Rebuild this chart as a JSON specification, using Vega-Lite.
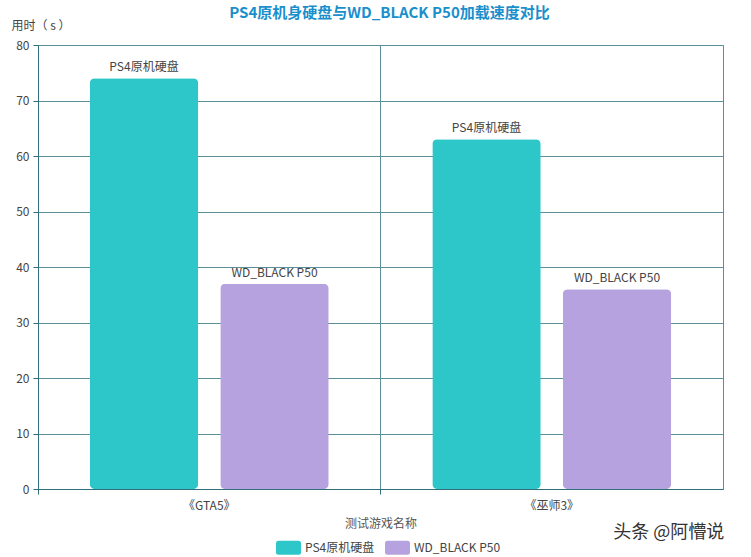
{
  "$schema": "https://vega.github.io/schema/vega-lite/v6.json",
  "width": 685,
  "height": 444,
  "autosize": {"type": "none"},
  "padding": {"left": 38, "top": 45, "right": 28, "bottom": 68},
  "background": "white",
  "config": {
    "font": "Noto Sans CJK SC",
    "view": {"stroke": "#5a8f99", "strokeWidth": 1}
  },
  "title": {
    "text": "PS4原机身硬盘与WD_BLACK P50加载速度对比",
    "color": "#1a8fcc",
    "fontSize": 15,
    "fontWeight": "bold",
    "anchor": "middle",
    "frame": "group",
    "baseline": "bottom",
    "offset": -17,
    "dx": 9
  },
  "data": {
    "values": [
      {"game": "《GTA5》", "disk": "PS4原机硬盘", "time": 74},
      {"game": "《GTA5》", "disk": "WD_BLACK P50", "time": 37},
      {"game": "《巫师3》", "disk": "PS4原机硬盘", "time": 63},
      {"game": "《巫师3》", "disk": "WD_BLACK P50", "time": 36}
    ]
  },
  "encoding": {
    "x": {
      "field": "game",
      "type": "nominal",
      "sort": null,
      "scale": {"paddingInner": 0, "paddingOuter": 0},
      "axis": {
        "title": "测试游戏名称",
        "titleFontSize": 12,
        "titleFontWeight": "normal",
        "titleColor": "#555555",
        "titlePadding": 7,
        "labelAngle": 0,
        "labelFontSize": 12,
        "labelColor": "#444444",
        "labelPadding": 6,
        "bandPosition": 0,
        "grid": true,
        "gridColor": "#5a8f99",
        "domainColor": "#2f6e7b",
        "tickColor": "#2f6e7b",
        "tickSize": 5
      }
    },
    "y": {
      "field": "time",
      "type": "quantitative",
      "scale": {"domain": [0, 80], "nice": false},
      "axis": {
        "title": "用时（ s ）",
        "titleAngle": 0,
        "titleAlign": "left",
        "titleBaseline": "middle",
        "titleX": -27,
        "titleY": -20,
        "titleFontSize": 12,
        "titleFontWeight": "normal",
        "titleColor": "#444444",
        "values": [0, 10, 20, 30, 40, 50, 60, 70, 80],
        "labelFontSize": 12,
        "labelColor": "#444444",
        "labelPadding": 4,
        "gridColor": "#5a8f99",
        "domainColor": "#2f6e7b",
        "tickColor": "#2f6e7b",
        "tickSize": 5
      }
    }
  },
  "layer": [
    {
      "mark": {"type": "bar", "cornerRadius": 5},
      "encoding": {
        "xOffset": {
          "field": "disk",
          "type": "nominal",
          "sort": null,
          "scale": {"paddingInner": 0.169, "paddingOuter": 0.397}
        },
        "color": {
          "field": "disk",
          "type": "nominal",
          "sort": null,
          "scale": {"range": ["#2ec7c9", "#b6a2de"]},
          "legend": {
            "title": null,
            "orient": "none",
            "legendX": 238,
            "legendY": 490,
            "direction": "horizontal",
            "labelFontSize": 12,
            "labelColor": "#444444",
            "symbolType": "M-0.8,-0.56 L0.8,-0.56 Q1,-0.56 1,-0.36 L1,0.36 Q1,0.56 0.8,0.56 L-0.8,0.56 Q-1,0.56 -1,0.36 L-1,-0.36 Q-1,-0.56 -0.8,-0.56 Z",
            "symbolSize": 625,
            "symbolStrokeWidth": 0,
            "symbolOpacity": 1,
            "columnPadding": 10,
            "labelOffset": 4
          }
        }
      }
    },
    {
      "mark": {"type": "text", "baseline": "bottom", "dy": -4, "fontSize": 12, "color": "#444444"},
      "encoding": {
        "xOffset": {"field": "disk", "type": "nominal", "sort": null},
        "text": {"field": "disk"}
      }
    },
    {
      "data": {"values": [{"game": "《巫师3》", "time": -8, "note": "头条 @阿懵说"}]},
      "mark": {"type": "text", "fontSize": 18, "color": "#333333", "dx": 117, "baseline": "middle"},
      "encoding": {
        "text": {"field": "note"}
      }
    }
  ]
}
